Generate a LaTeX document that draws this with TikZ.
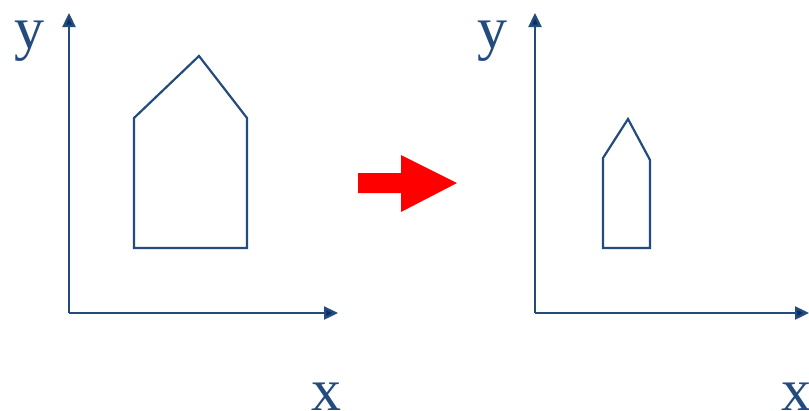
\documentclass[tikz,border=0pt]{standalone}
\usepackage{fontspec}
\setmainfont{Liberation Serif}
\usetikzlibrary{arrows.meta}
\definecolor{axisblue}{RGB}{35,75,125}
\definecolor{tipblue}{RGB}{10,45,100}
\definecolor{arrred}{RGB}{255,0,0}
\tikzset{
  axisline/.style={draw=axisblue, line width=2.4pt, -{Triangle[length=14pt,width=13pt,fill=tipblue]}},
  house/.style={draw=axisblue, line width=2.2pt, line join=miter},
  lbl/.style={text=axisblue, font=\fontsize{60}{60}\selectfont, inner sep=0pt, anchor=base}
}
\begin{document}
\begin{tikzpicture}[x=1pt,y=-1pt]
\useasboundingbox (0,0) rectangle (809,410);
% left axes
\coordinate (o1) at (69,313);
\coordinate (y1) at (69,13);
\coordinate (x1) at (338,313);
\draw[axisline] (o1) -- (y1);
\draw[axisline] (o1) -- (x1);
\node[lbl] (ly1) at (30,48) {y};
\node[lbl] (lx1) at (326,410) {x};
% left house
\draw[house] (134,248) -- (134,118) -- (199,56) -- (247,118) -- (247,248) -- cycle;
% right axes
\coordinate (o2) at (535,313);
\coordinate (y2) at (535,13);
\coordinate (x2) at (809,313);
\draw[axisline] (o2) -- (y2);
\draw[axisline] (o2) -- (x2);
\node[lbl] (ly2) at (492,48) {y};
\node[lbl] (lx2) at (796,410) {x};
% right house
\draw[house] (603,248) -- (603,158) -- (628,119) -- (650,160) -- (650,248) -- cycle;
% red arrow
\fill[arrred] (358,173) -- (401,173) -- (401,155) -- (457,183) -- (401,212) -- (401,193) -- (358,193) -- cycle;
\end{tikzpicture}
\end{document}
